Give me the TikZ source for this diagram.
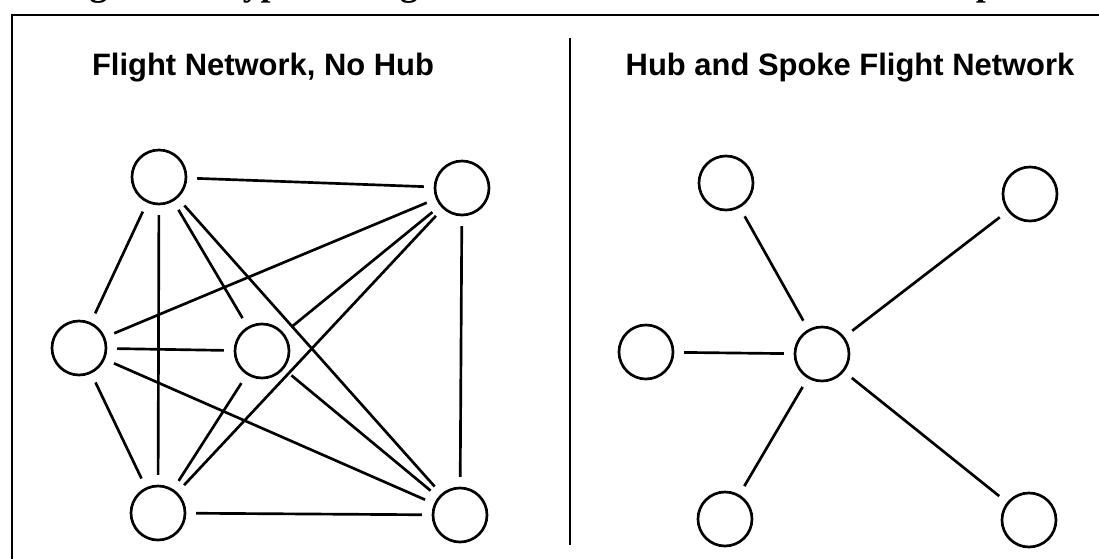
\documentclass[tikz,border=0pt]{standalone}
\usepackage{fontspec}
\setmainfont{Liberation Serif}
\newfontfamily\headfont{Liberation Sans}
\usetikzlibrary{positioning}

\begin{document}
\begin{tikzpicture}[
    x=0.025cm, y=-0.025cm,
    city/.style={draw, circle, line width=1.9pt, inner sep=0pt, minimum size=1.35cm},
    route/.style={line width=1.9pt, shorten <=7pt, shorten >=7pt},
    heading/.style={font=\headfont\bfseries\fontsize{22}{26}\selectfont, anchor=base}
]
    \useasboundingbox (0,0) rectangle (1099,559);
    \clip (0,0) rectangle (1099,559);

    % caption, mostly above the page edge
    \node[anchor=base east, inner sep=0pt, font=\bfseries\fontsize{25.5}{30}\selectfont] (caption) at (1050,-4)
        {Figure 3.1 Types of Flight Networks: No Hub vs. Hub and Spoke};

    % frame and divider
    \draw[line width=1.6pt] (12,559) -- (12,15) -- (1099,15);
    \draw[line width=1.3pt] (570,38) -- (570,545);

    % Headings
    \node[heading] (nohubtitle) at (263,75) {Flight Network, No Hub};
    \node[heading] (hubtitle) at (850,75) {Hub and Spoke Flight Network};

    % Cities without a hub
    \node[city] (tl) at (159,177) {};
    \node[city] (tr) at (462,188) {};
    \node[city] (ml) at (79,348) {};
    \node[city] (mc) at (262,351) {};
    \node[city] (bl) at (158,513) {};
    \node[city] (br) at (460,515) {};

    % every city linked to every other
    \foreach \a/\b in {tl/tr, tl/ml, tl/bl, tl/mc, tl/br,
                       tr/ml, tr/mc, tr/bl, tr/br,
                       ml/mc, ml/bl, ml/br,
                       mc/bl, mc/br,
                       bl/br}
        \draw[route] (\a) -- (\b);

    % Hub and spoke cities
    \node[city] (stl) at (726,183) {};
    \node[city] (str) at (1030,194) {};
    \node[city] (sml) at (646,352) {};
    \node[city] (hub) at (822,354) {};
    \node[city] (sbl) at (725,519) {};
    \node[city] (sbr) at (1029,520) {};

    % spokes
    \foreach \s in {stl, str, sml, sbl, sbr}
        \draw[route] (hub) -- (\s);
\end{tikzpicture}
\end{document}
